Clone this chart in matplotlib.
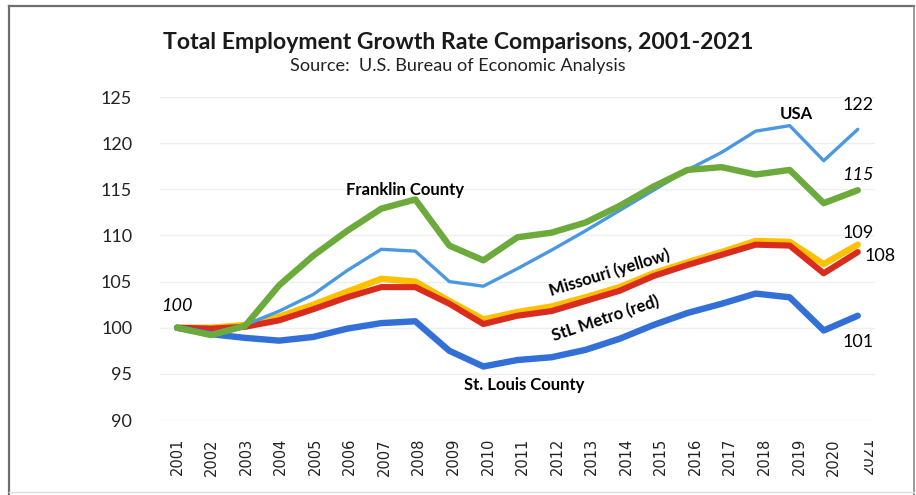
import matplotlib.pyplot as plt
from matplotlib.lines import Line2D
from matplotlib.transforms import Bbox, TransformedBbox

years = list(range(2001, 2022))

usa = [100, 99.4, 100.3, 101.8, 103.6, 106.2, 108.5, 108.3, 105.0, 104.5, 106.4,
       108.4, 110.5, 112.7, 114.9, 117.1, 119.0, 121.3, 121.9, 118.1, 121.5]
franklin = [100, 99.2, 100.2, 104.6, 107.8, 110.5, 112.9, 113.9, 108.9, 107.3, 109.8,
            110.3, 111.4, 113.2, 115.3, 117.1, 117.4, 116.6, 117.1, 113.5, 114.9]
missouri = [100, 100.0, 100.3, 101.2, 102.5, 103.9, 105.3, 105.0, 102.9, 100.9, 101.7,
            102.3, 103.3, 104.4, 105.9, 107.1, 108.2, 109.4, 109.3, 106.9, 109.0]
stl_metro = [100, 99.9, 100.1, 100.8, 102.0, 103.3, 104.4, 104.4, 102.6, 100.4, 101.3,
             101.8, 102.9, 104.0, 105.6, 106.8, 107.9, 109.0, 108.9, 105.9, 108.2]
stl_county = [100, 99.3, 98.9, 98.6, 99.0, 99.9, 100.5, 100.7, 97.5, 95.8, 96.5,
              96.8, 97.6, 98.8, 100.3, 101.6, 102.6, 103.7, 103.3, 99.7, 101.3]

y_ticks = [90, 95, 100, 105, 110, 115, 120, 125]

plt.rcParams['font.family'] = ['Lato', 'DejaVu Sans']

fig = plt.figure(figsize=(9.16, 4.95), dpi=100)
ax = fig.add_axes([0.1747, 0.1515, 0.7803, 0.6525])

ax.plot(years, missouri, color='#FFC000', lw=4.6, solid_capstyle='round', zorder=3)
ax.plot(years, stl_metro, color='#D92B1E', lw=4.4, solid_capstyle='round', zorder=4)
ax.plot(years, stl_county, color='#3270D8', lw=4.6, solid_capstyle='round', zorder=5)
ax.plot(years, usa, color='#4A98E2', lw=2.4, solid_capstyle='round', zorder=6)
ax.plot(years, franklin, color='#6CAA3C', lw=4.6, solid_capstyle='round', zorder=7)

ax.set_xlim(2000.5, 2021.5)
ax.set_ylim(90, 125)
ax.set_yticks(y_ticks)
# year labels drift slightly right across the axis
tick_pos = [y + 0.3 * i / 20 for i, y in enumerate(years)]
ax.set_xticks(tick_pos)
# the last year gets its own, partly cut label below
ax.set_xticklabels([str(y) for y in years[:-1]] + [''], rotation=90, fontsize=10.5,
                   family='DejaVu Sans', color='#222222')
ax.tick_params(axis='x', length=0, pad=13)
ax.tick_params(axis='y', length=0, pad=20, labelsize=13, labelcolor='#222222')
ax.grid(axis='y', color='#efefef', lw=1)
ax.set_axisbelow(True)
for s in ax.spines.values():
    s.set_visible(False)

last = ax.text(tick_pos[-1], -0.052, str(years[-1]), transform=ax.get_xaxis_transform(),
               rotation=90, fontsize=10.5, family='DejaVu Sans', color='#222222',
               ha='center', va='top')
last.set_clip_on(True)
last.set_clip_path(None)
last.set_clip_box(TransformedBbox(Bbox([[864 / 916, 0], [1, 1]]), fig.transFigure))

# labels on the lines
ax.text(years[0], 102.4, '100', style='italic', fontsize=13, ha='center', va='center')
ax.text(2007.7, 114.9, 'Franklin County', weight='bold', fontsize=12, ha='center', va='center')
ax.text(2019.2, 123.2, 'USA', weight='bold', fontsize=12, ha='center', va='center')
ax.text(2011.2, 93.8, 'St. Louis County', weight='bold', fontsize=12, ha='center', va='center')
ax.text(2013.7, 106.0, 'Missouri (yellow)', weight='bold', fontsize=12, rotation=17,
        ha='center', va='center', rotation_mode='anchor')
ax.text(2013.6, 101.0, 'StL Metro (red)', weight='bold', fontsize=12, rotation=18.5,
        ha='center', va='center', rotation_mode='anchor')

ax.text(years[-1], 124.1, f'{usa[-1]:.0f}', fontsize=13, ha='center', va='center', clip_on=False)
ax.text(years[-1], 116.6, f'{franklin[-1]:.0f}', style='italic', fontsize=13, ha='center', va='center', clip_on=False)
ax.text(years[-1], 110.3, f'{missouri[-1]:.0f}', fontsize=13, ha='center', va='center', clip_on=False)
ax.text(2021.65, 107.8, f'{stl_metro[-1]:.0f}', fontsize=13, ha='center', va='center', clip_on=False)
ax.text(years[-1], 98.4, f'{stl_county[-1]:.0f}', fontsize=13, ha='center', va='center', clip_on=False)

fig.text(0.5, 0.915, 'Total Employment Growth Rate Comparisons, 2001-2021',
         weight='bold', fontsize=16.6, ha='center', va='center', color='#1a1a1a')
fig.text(0.5, 0.866, 'Source:  U.S. Bureau of Economic Analysis',
         fontsize=13.1, ha='center', va='center', color='#222222')

# border around the chart
fx = lambda px: px / 916
fy = lambda py: 1 - py / 495
fig.add_artist(Line2D([fx(9), fx(9)], [fy(6), fy(495)], color='#6e6e6e', lw=1.6))
fig.add_artist(Line2D([fx(9), fx(914)], [fy(6), fy(6)], color='#6e6e6e', lw=1.6))
fig.add_artist(Line2D([fx(914), fx(914)], [fy(6), fy(495)], color='#888888', lw=1.2))
fig.add_artist(Line2D([fx(9), fx(914)], [fy(492), fy(492)], color='#dddddd', lw=1))

fig.savefig('out.png', dpi=100)
